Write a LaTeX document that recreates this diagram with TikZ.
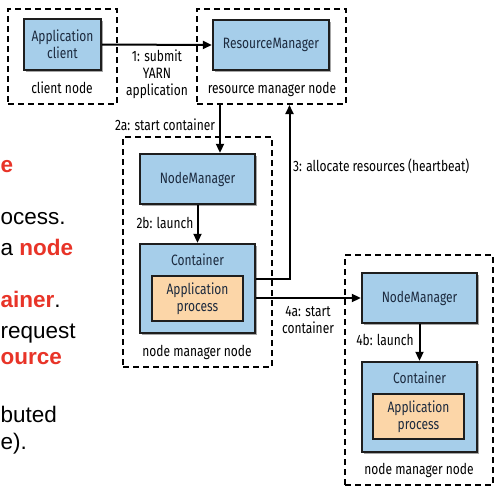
\documentclass[tikz,border=0pt]{standalone}
\usepackage{fontspec}
\setmainfont{Liberation Sans}
\newfontfamily\diagfont[FakeStretch=0.8]{Fira Sans}
\usetikzlibrary{arrows.meta,shadows,calc}
\definecolor{boxblue}{RGB}{166,206,234}
\definecolor{boxorange}{RGB}{252,214,168}
\definecolor{boxline}{RGB}{30,30,30}
\definecolor{boxtext}{RGB}{28,42,62}
\definecolor{slidered}{RGB}{232,52,40}
\begin{document}
\begin{tikzpicture}[x=1pt,y=-1pt,
  every node/.style={inner sep=0pt},
  diag/.style={font=\diagfont\fontsize{15}{17}\selectfont},
  bluebox/.style={draw=boxline,line width=2.4pt,fill=boxblue,diag,text=boxtext,align=center,
     drop shadow={shadow xshift=1.5pt,shadow yshift=-1.5pt,opacity=0.35,fill=black}},
  orangebox/.style={draw=boxline,line width=2.2pt,fill=boxorange,diag,text=boxtext,align=center},
  machine/.style={draw=black,line width=2pt,dash pattern=on 6pt off 4pt},
  lbl/.style={diag,text=black,align=center},
  arr/.style={line width=2pt,draw=black,-{Triangle[length=9pt,width=8pt]}},
  slide/.style={font=\fontsize{22.5}{26}\selectfont,anchor=base west},
  hl/.style={text=slidered,font=\bfseries\fontsize{22.5}{26}\selectfont}
]
\useasboundingbox (0,0) rectangle (499,490);

% machine (dashed) boxes
\node[machine,minimum width=109pt,minimum height=95pt] (cm) at (62.5,56.5) {};
\node[machine,minimum width=149pt,minimum height=95pt] (rmm) at (271.5,56.5) {};
\node[machine,minimum width=149pt,minimum height=230pt] (nmm1) at (197.5,252) {};
\node[machine,minimum width=148pt,minimum height=230pt] (nmm2) at (419,370) {};

% components
\node[bluebox,minimum width=77pt,minimum height=51pt] (client) at (62.5,44.5) {Application\\client};
\node[bluebox,minimum width=116pt,minimum height=50pt] (rm) at (271,45) {ResourceManager};
\node[bluebox,minimum width=115pt,minimum height=50pt] (nm1) at (197.5,179) {NodeManager};
\node[bluebox,minimum width=115pt,minimum height=89pt] (c1) at (197.5,288.5) {};
\node[diag,text=boxtext] (c1t) at (197.5,260) {Container};
\node[orangebox,minimum width=91pt,minimum height=45pt] (ap1) at (197.5,298.5) {Application\\process};
\node[bluebox,minimum width=115pt,minimum height=50pt] (nm2) at (419.5,298) {NodeManager};
\node[bluebox,minimum width=115pt,minimum height=90pt] (c2) at (419.5,407) {};
\node[diag,text=boxtext] (c2t) at (419.5,378) {Container};
\node[orangebox,minimum width=91pt,minimum height=45pt] (ap2) at (418.5,416.5) {Application\\process};

% machine labels
\node[lbl] (cn) at (62,88) {client node};
\node[lbl] (rmn) at (272,89) {resource manager node};
\node[lbl] (nmn1) at (197,352) {node manager node};
\node[lbl] (nmn2) at (419,470) {node manager node};

% connectors
\draw[arr] (client.east) -- (rm.west);
\draw[arr] ([xshift=22.5pt]nm1.north |- rmm.south) -- ([xshift=22.5pt]nm1.north);
\draw[arr] (nm1.south) -- (c1.north);
\draw[arr] ([yshift=9.5pt]c1.east) -| ([xshift=18pt]rmm.south);
\draw[arr] (c1.east |- nm2.west) -- (nm2.west);
\draw[arr] (nm2.south) -- (c2.north);

% connector labels
\node[lbl] (l1) at (157,74) {1: submit\\YARN\\application};
\node[lbl] (l2a) at (165,125) {2a: start container};
\node[lbl,anchor=west] (l3) at (293,166) {3: allocate resources (heartbeat)};
\node[lbl] (l2b) at (165,223) {2b: launch};
\node[lbl] (l4a) at (308,320) {4a: start\\container};
\node[lbl] (l4b) at (385,340) {4b: launch};

% clipped slide text at left
\node[slide,hl] (s1) at (0.5,172) {e};
\node[slide] (s2) at (0.5,224) {ocess.};
\node[slide] (s3) at (0.5,255) {a \textcolor{slidered}{\bfseries node}};
\node[slide] (s4) at (0.5,307) {\textcolor{slidered}{\bfseries ainer}.};
\node[slide] (s5) at (0.5,338) {request};
\node[slide,hl] (s6) at (0.5,364) {ource};
\node[slide] (s7) at (0.5,422) {buted};
\node[slide] (s8) at (0.5,449) {e).};
\end{tikzpicture}
\end{document}
